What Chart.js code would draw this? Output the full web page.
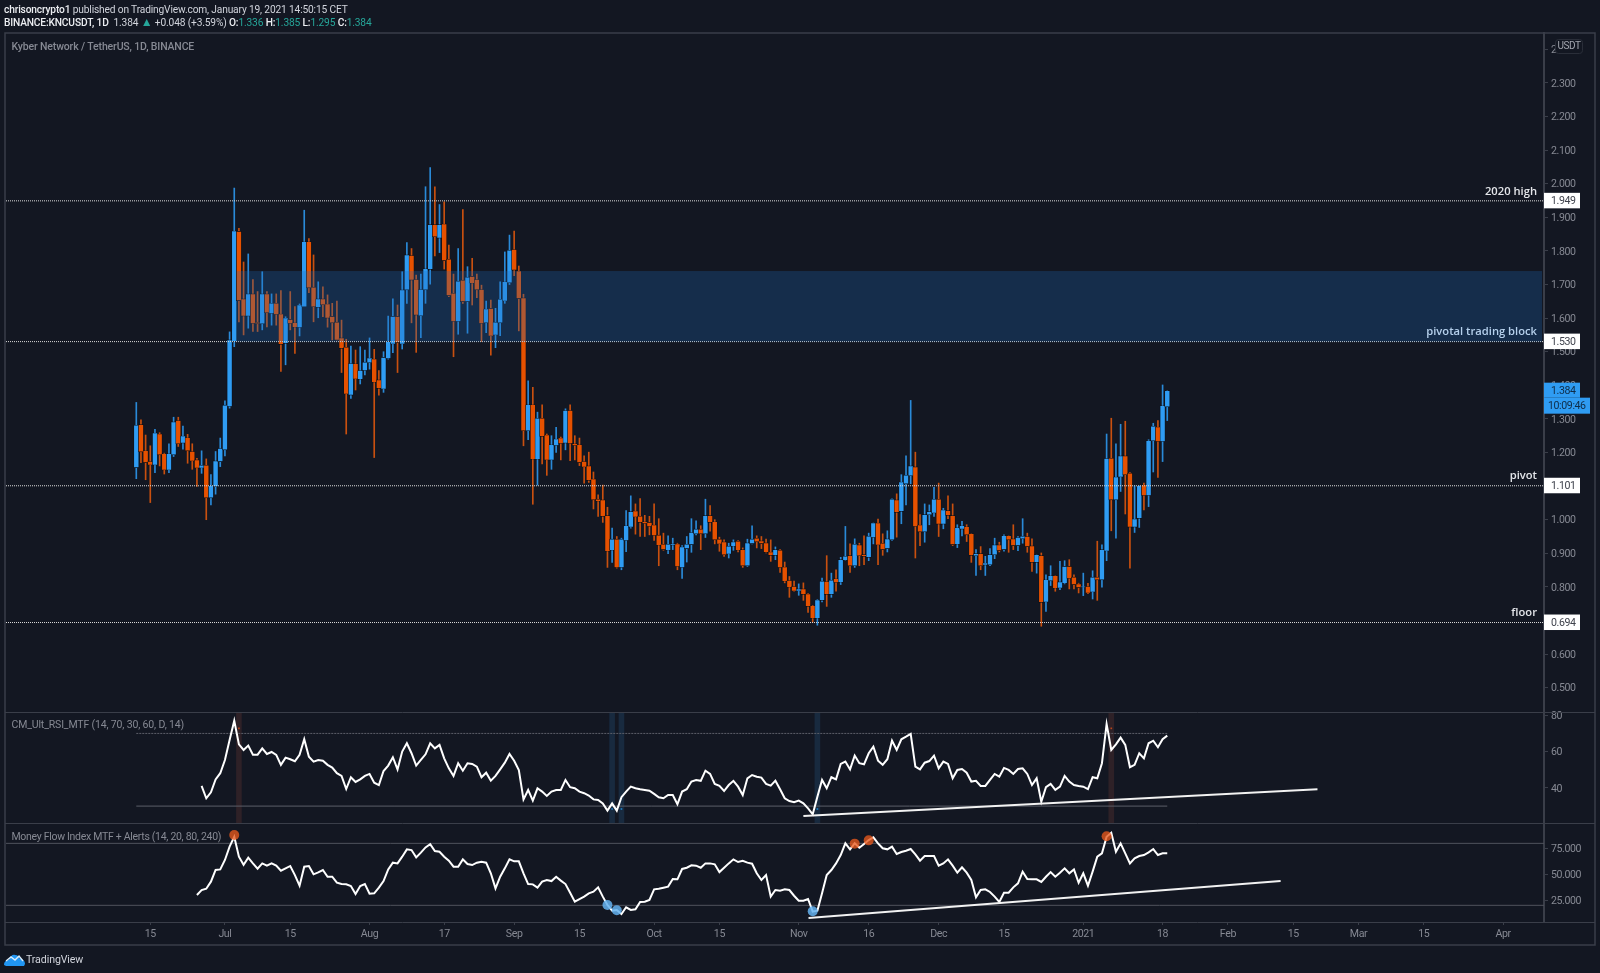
<!DOCTYPE html>
<html>
<head>
<meta charset="utf-8">
<title>KNCUSDT 1D</title>
<script src="https://cdn.jsdelivr.net/npm/chart.js@4"></script>
<style>
    html, body { margin: 0; padding: 0; background: #131722; }
    body { width: 1600px; height: 973px; position: relative; overflow: hidden; font-family: Roboto, sans-serif; }
    #chart { position: absolute; left: 0; top: 0; }
    .head { position: absolute; left: 4px; font-size: 10.2px; letter-spacing: -0.15px; line-height: 13px; color: #d1d4dc; white-space: nowrap; }
    .head b { color: #eceef2; font-weight: 500; }
    .head i { font-style: normal; color: #26a69a; }
    .head i.arrow { font-size: 12px; line-height: 12px; }
    #brand { position: absolute; left: 4px; top: 952px; height: 15px; }
    #brandText { position: absolute; left: 26px; top: 952px; font-size: 10.6px; letter-spacing: -0.1px; line-height: 15px; color: #d1d4dc; }
</style>
</head>
<body>
<canvas id="chart" width="1600" height="973"></canvas>
<div class="head" style="top:3px"><b>chrisoncrypto1</b> published on TradingView.com, January 19, 2021 14:50:15 CET</div>
<div class="head" style="top:16px"><b>BINANCE:KNCUSDT, 1D</b> &nbsp;1.384 <i class="arrow">▲</i> +0.048 (+3.59%) <b>O:</b><i>1.336</i> <b>H:</b><i>1.385</i> <b>L:</b><i>1.295</i> <b>C:</b><i>1.384</i></div>
<svg id="brand" width="21" height="15" viewBox="0 0 21 15">
    <path d="M0 13 C0 9 3 8 5 8 C6 4 9 2 11 3 C14 3 15 5 16 7 C19 7 21 9 21 12 L20 14 L2 14 Z" fill="#2196f3"/>
    <path d="M2 9 L7 5 L11 8 L15 4 L19 9" fill="none" stroke="#d9ecfb" stroke-width="1.4"/>
</svg>
<div id="brandText">TradingView</div>

<script>
// Daily candles, index 0 is 12 Jun 2020
const opens = [
    1.155, 1.283, 1.205, 1.173, 1.163, 1.255, 1.196, 1.148, 1.193, 1.295,
    1.228, 1.244, 1.203, 1.178, 1.154, 1.162, 1.065, 1.099, 1.173, 1.208,
    1.337, 1.530, 1.858, 1.657, 1.606, 1.672, 1.588, 1.583, 1.672, 1.614,
    1.644, 1.612, 1.525, 1.596, 1.586, 1.572, 1.634, 1.827, 1.692, 1.632,
    1.657, 1.642, 1.605, 1.588, 1.541, 1.513, 1.371, 1.464, 1.418, 1.444,
    1.467, 1.478, 1.416, 1.389, 1.480, 1.523, 1.605, 1.523, 1.684, 1.786,
    1.715, 1.607, 1.684, 1.745, 1.878, 1.838, 1.880, 1.775, 1.674, 1.590,
    1.713, 1.649, 1.724, 1.715, 1.685, 1.586, 1.629, 1.550, 1.586, 1.651,
    1.705, 1.804, 1.740, 1.660, 1.265, 1.342, 1.180, 1.302, 1.252, 1.178,
    1.221, 1.243, 1.228, 1.325, 1.226, 1.223, 1.173, 1.160, 1.121, 1.061,
    1.059, 1.012, 0.909, 0.942, 0.858, 0.938, 0.978, 1.026, 1.010, 0.994,
    0.992, 0.984, 0.954, 0.927, 0.909, 0.924, 0.928, 0.858, 0.914, 0.926,
    0.958, 0.972, 0.958, 1.012, 0.994, 0.942, 0.934, 0.898, 0.921, 0.936,
    0.911, 0.863, 0.929, 0.945, 0.937, 0.931, 0.904, 0.894, 0.909, 0.859,
    0.819, 0.801, 0.788, 0.794, 0.779, 0.744, 0.707, 0.760, 0.816, 0.778,
    0.824, 0.814, 0.879, 0.893, 0.863, 0.925, 0.896, 0.888, 0.947, 0.990,
    0.930, 0.914, 0.940, 1.059, 1.025, 1.107, 1.131, 1.157, 0.984, 0.964,
    1.015, 1.020, 1.061, 0.987, 1.027, 1.012, 0.927, 0.972, 0.979, 0.958,
    0.893, 0.899, 0.865, 0.866, 0.896, 0.925, 0.911, 0.952, 0.943, 0.923,
    0.943, 0.950, 0.922, 0.873, 0.893, 0.755, 0.818, 0.833, 0.797, 0.811,
    0.861, 0.829, 0.809, 0.799, 0.801, 0.785, 0.829, 0.821, 0.907, 1.183,
    1.059, 1.127, 1.190, 1.138, 0.978, 1.004, 1.103, 1.072, 1.235, 1.276,
    1.233, 1.336
];
const highs = [
    1.349, 1.297, 1.252, 1.220, 1.269, 1.259, 1.198, 1.226, 1.305, 1.305,
    1.279, 1.254, 1.226, 1.183, 1.205, 1.181, 1.134, 1.203, 1.243, 1.354,
    1.559, 1.987, 1.867, 1.767, 1.791, 1.715, 1.679, 1.738, 1.679, 1.672,
    1.672, 1.682, 1.604, 1.679, 1.634, 1.642, 1.921, 1.837, 1.788, 1.708,
    1.693, 1.669, 1.644, 1.651, 1.594, 1.537, 1.517, 1.505, 1.515, 1.505,
    1.541, 1.507, 1.444, 1.500, 1.606, 1.657, 1.639, 1.738, 1.825, 1.807,
    1.728, 1.731, 1.991, 2.048, 1.991, 1.938, 1.946, 1.817, 1.731, 1.807,
    1.923, 1.753, 1.778, 1.731, 1.698, 1.651, 1.654, 1.629, 1.708, 1.797,
    1.847, 1.859, 1.755, 1.671, 1.413, 1.394, 1.320, 1.342, 1.255, 1.250,
    1.275, 1.246, 1.330, 1.342, 1.250, 1.243, 1.190, 1.201, 1.142, 1.074,
    1.103, 1.037, 0.975, 0.950, 0.945, 1.027, 1.071, 1.047, 1.063, 1.013,
    1.010, 1.047, 1.003, 0.960, 0.952, 0.945, 0.930, 0.923, 0.950, 1.003,
    0.997, 0.982, 1.061, 1.042, 1.000, 0.948, 0.940, 0.930, 0.940, 0.938,
    0.916, 0.942, 0.982, 0.952, 0.950, 0.942, 0.940, 0.919, 0.911, 0.874,
    0.831, 0.817, 0.809, 0.812, 0.780, 0.745, 0.762, 0.826, 0.893, 0.841,
    0.851, 0.888, 0.980, 0.928, 0.943, 0.930, 0.952, 0.960, 0.990, 1.002,
    0.958, 0.967, 1.062, 1.077, 1.134, 1.190, 1.355, 1.201, 1.015, 1.047,
    1.044, 1.096, 1.109, 1.034, 1.071, 1.047, 0.985, 0.995, 0.985, 0.958,
    0.911, 0.920, 0.891, 0.914, 0.945, 0.933, 0.955, 0.952, 0.985, 0.950,
    1.003, 0.960, 0.943, 0.896, 0.901, 0.836, 0.863, 0.833, 0.876, 0.878,
    0.881, 0.836, 0.811, 0.841, 0.811, 0.848, 0.936, 0.925, 1.255, 1.302,
    1.226, 1.284, 1.293, 1.140, 1.101, 1.101, 1.109, 1.238, 1.287, 1.295,
    1.401, 1.385
];
const lows = [
    1.122, 1.170, 1.119, 1.051, 1.140, 1.160, 1.136, 1.140, 1.188, 1.218,
    1.210, 1.168, 1.150, 1.099, 1.138, 1.000, 1.044, 1.076, 1.158, 1.190,
    1.332, 1.515, 1.589, 1.550, 1.570, 1.560, 1.560, 1.565, 1.574, 1.579,
    1.579, 1.441, 1.461, 1.565, 1.495, 1.547, 1.634, 1.676, 1.589, 1.601,
    1.604, 1.573, 1.535, 1.535, 1.438, 1.255, 1.361, 1.386, 1.404, 1.431,
    1.448, 1.185, 1.371, 1.379, 1.478, 1.497, 1.438, 1.508, 1.644, 1.586,
    1.498, 1.542, 1.644, 1.701, 1.785, 1.795, 1.746, 1.664, 1.485, 1.552,
    1.644, 1.555, 1.639, 1.661, 1.530, 1.557, 1.490, 1.512, 1.548, 1.644,
    1.700, 1.726, 1.562, 1.220, 1.238, 1.046, 1.103, 1.166, 1.132, 1.150,
    1.200, 1.178, 1.208, 1.176, 1.178, 1.161, 1.109, 1.111, 1.032, 1.010,
    0.992, 0.858, 0.873, 0.856, 0.851, 0.905, 0.975, 0.957, 0.950, 0.950,
    0.955, 0.938, 0.863, 0.909, 0.899, 0.911, 0.851, 0.825, 0.874, 0.903,
    0.955, 0.911, 0.947, 0.966, 0.928, 0.906, 0.891, 0.886, 0.909, 0.904,
    0.858, 0.861, 0.928, 0.916, 0.914, 0.901, 0.876, 0.881, 0.843, 0.812,
    0.769, 0.787, 0.775, 0.760, 0.724, 0.695, 0.686, 0.755, 0.742, 0.769,
    0.787, 0.807, 0.878, 0.843, 0.858, 0.863, 0.866, 0.878, 0.928, 0.866,
    0.894, 0.904, 0.938, 0.948, 0.988, 1.044, 1.107, 0.886, 0.923, 0.933,
    0.985, 1.010, 0.950, 0.973, 1.003, 0.923, 0.917, 0.952, 0.935, 0.873,
    0.834, 0.851, 0.834, 0.863, 0.884, 0.904, 0.906, 0.903, 0.911, 0.908,
    0.930, 0.903, 0.846, 0.841, 0.683, 0.727, 0.804, 0.787, 0.792, 0.809,
    0.794, 0.794, 0.782, 0.774, 0.780, 0.764, 0.760, 0.799, 0.878, 0.967,
    0.945, 1.084, 1.017, 0.856, 0.962, 0.977, 1.029, 1.039, 1.142, 1.126,
    1.173, 1.295
];
const closes = [
    1.281, 1.202, 1.170, 1.163, 1.258, 1.193, 1.148, 1.196, 1.291, 1.226,
    1.249, 1.205, 1.175, 1.154, 1.162, 1.065, 1.101, 1.175, 1.212, 1.341,
    1.535, 1.859, 1.652, 1.606, 1.672, 1.584, 1.583, 1.672, 1.616, 1.644,
    1.611, 1.522, 1.600, 1.584, 1.573, 1.639, 1.827, 1.690, 1.634, 1.657,
    1.640, 1.600, 1.586, 1.535, 1.510, 1.374, 1.465, 1.419, 1.444, 1.469,
    1.481, 1.409, 1.391, 1.483, 1.530, 1.605, 1.527, 1.684, 1.788, 1.713,
    1.609, 1.685, 1.747, 1.878, 1.842, 1.878, 1.771, 1.667, 1.590, 1.710,
    1.649, 1.722, 1.704, 1.684, 1.584, 1.627, 1.547, 1.588, 1.656, 1.708,
    1.802, 1.743, 1.658, 1.265, 1.342, 1.180, 1.302, 1.248, 1.178, 1.223,
    1.240, 1.227, 1.325, 1.227, 1.221, 1.170, 1.157, 1.117, 1.059, 1.055,
    1.010, 0.906, 0.942, 0.858, 0.942, 0.982, 1.024, 1.008, 0.992, 0.989,
    0.980, 0.953, 0.924, 0.911, 0.927, 0.928, 0.861, 0.919, 0.927, 0.962,
    0.972, 0.958, 1.012, 0.992, 0.940, 0.928, 0.896, 0.921, 0.934, 0.909,
    0.863, 0.931, 0.942, 0.934, 0.929, 0.903, 0.894, 0.911, 0.858, 0.817,
    0.799, 0.788, 0.794, 0.778, 0.742, 0.707, 0.761, 0.817, 0.778, 0.820,
    0.813, 0.881, 0.891, 0.863, 0.927, 0.893, 0.891, 0.951, 0.990, 0.925,
    0.911, 0.943, 1.061, 1.022, 1.112, 1.132, 1.160, 0.980, 0.964, 1.015,
    1.024, 1.061, 0.987, 1.029, 1.013, 0.926, 0.976, 0.982, 0.955, 0.894,
    0.899, 0.863, 0.871, 0.896, 0.925, 0.908, 0.952, 0.940, 0.923, 0.947,
    0.951, 0.920, 0.873, 0.896, 0.754, 0.821, 0.833, 0.796, 0.815, 0.861,
    0.825, 0.807, 0.798, 0.801, 0.782, 0.829, 0.821, 0.911, 1.182, 1.059,
    1.127, 1.190, 1.134, 0.978, 1.002, 1.101, 1.072, 1.235, 1.278, 1.233,
    1.339, 1.384
];

// RSI starts at day 14, money flow at day 13
const rsiStart = 14;
const rsiValues = [
    41.1, 34.3, 37.6, 44.7, 48.1, 55.4, 66.4, 77.0, 64.0, 60.9,
    63.3, 58.3, 58.3, 61.8, 58.7, 59.8, 58.2, 52.7, 56.7, 55.8,
    54.7, 58.2, 66.8, 57.2, 54.5, 55.4, 55.0, 52.7, 51.2, 48.1,
    46.6, 39.4, 45.9, 43.3, 44.7, 46.6, 47.7, 42.9, 41.6, 49.3,
    52.3, 56.9, 50.2, 60.0, 64.6, 59.1, 52.3, 55.4, 58.5, 64.6,
    61.8, 63.7, 56.3, 50.8, 46.6, 53.6, 49.5, 53.6, 53.2, 51.7,
    45.9, 48.4, 44.0, 46.6, 50.2, 53.9, 58.7, 55.0, 49.9, 33.7,
    38.9, 33.0, 39.8, 38.0, 35.6, 38.0, 38.9, 38.9, 44.4, 40.4,
    39.8, 38.0, 37.1, 35.8, 33.7, 33.4, 31.5, 27.5, 31.5, 27.5,
    34.9, 38.0, 40.7, 39.8, 39.3, 38.9, 38.5, 36.7, 34.9, 34.3,
    36.1, 36.1, 31.0, 38.0, 39.3, 43.5, 44.4, 43.9, 49.5, 47.7,
    42.2, 41.1, 38.3, 41.6, 43.9, 40.7, 36.1, 45.3, 47.1, 46.2,
    45.7, 42.2, 41.3, 44.0, 39.3, 34.3, 32.8, 32.1, 33.0, 31.5,
    28.8, 25.5, 35.2, 44.4, 39.8, 45.9, 44.7, 53.2, 54.5, 50.2,
    57.8, 53.6, 53.0, 59.1, 62.7, 55.0, 52.7, 55.8, 66.0, 60.9,
    66.8, 68.2, 69.7, 51.7, 50.2, 53.9, 54.8, 57.8, 50.8, 54.5,
    53.2, 45.3, 49.9, 50.4, 48.4, 43.5, 43.9, 41.1, 41.1, 44.4,
    47.7, 46.2, 51.0, 49.9, 47.7, 50.4, 50.8, 47.7, 41.6, 45.3,
    32.4, 40.4, 42.2, 38.9, 40.7, 46.6, 43.5, 41.6, 41.1, 40.7,
    39.4, 45.9, 45.3, 53.6, 75.2, 60.9, 64.0, 67.7, 63.7, 51.4,
    52.7, 59.1, 56.3, 64.6, 66.0, 62.4, 66.8, 68.8
];
const mfiStart = 13;
const mfiValues = [
    30.0, 34.8, 36.1, 42.9, 54.2, 54.8, 63.9, 76.8, 86.4, 67.1,
    59.3, 66.1, 60.6, 55.5, 60.6, 58.4, 60.6, 58.4, 53.5, 55.8,
    58.1, 49.3, 39.0, 57.4, 58.1, 50.0, 51.9, 54.2, 47.7, 47.7,
    41.9, 40.6, 40.3, 38.7, 31.0, 38.7, 40.6, 31.3, 31.6, 37.1,
    43.5, 54.8, 61.3, 60.6, 67.1, 74.2, 73.5, 66.4, 71.0, 76.1,
    79.3, 72.6, 71.9, 67.1, 63.2, 57.4, 57.4, 64.5, 60.0, 59.0,
    61.3, 62.2, 61.3, 51.0, 36.4, 47.7, 55.8, 64.5, 62.6, 62.6,
    51.0, 40.6, 40.3, 37.1, 42.9, 44.5, 43.5, 47.7, 43.9, 40.6,
    32.2, 23.5, 26.1, 28.4, 31.6, 33.2, 37.4, 28.4, 20.3, 14.8,
    15.5, 11.6, 18.1, 15.5, 16.1, 23.2, 23.5, 25.2, 35.5, 36.1,
    37.1, 38.1, 45.5, 45.2, 55.2, 56.4, 58.7, 58.4, 56.4, 60.6,
    60.6, 59.7, 52.2, 56.4, 60.6, 64.5, 61.9, 63.2, 61.3, 60.3,
    51.0, 44.5, 49.3, 28.4, 34.8, 34.2, 35.5, 34.8, 29.3, 24.5,
    24.5, 26.1, 13.9, 14.8, 31.6, 49.3, 54.2, 60.6, 68.7, 80.0,
    74.2, 80.0, 75.8, 79.3, 83.2, 85.8, 80.0, 75.2, 74.2, 76.8,
    69.7, 71.6, 72.9, 74.5, 69.3, 63.2, 67.7, 67.7, 67.7, 58.4,
    60.6, 64.5, 58.4, 51.6, 56.8, 51.6, 44.5, 27.7, 34.8, 35.5,
    32.9, 28.4, 23.2, 32.2, 32.2, 37.4, 41.3, 52.6, 45.5, 45.2,
    45.2, 42.6, 47.7, 52.2, 47.7, 51.6, 55.8, 51.0, 54.8, 41.9,
    51.0, 39.0, 52.6, 67.1, 70.3, 86.4, 90.3, 71.9, 80.0, 70.3,
    60.6, 65.5, 67.7, 68.7, 71.3, 74.5, 68.7, 70.3, 70.3
];

// Time axis
const tickDays = [3, 19, 33, 50, 66, 81, 95, 111, 125, 142, 157, 172, 186, 203, 220, 234, 248, 262, 276, 293];
const tickLabels = ['15', 'Jul', '15', 'Aug', '17', 'Sep', '15', 'Oct', '15', 'Nov', '16', 'Dec', '15', '2021', '18', 'Feb', '15', 'Mar', '15', 'Apr'];

// Axis ticks of the three panes
const priceTicks = [0.5, 0.6, 0.7, 0.8, 0.9, 1.0, 1.1, 1.2, 1.3, 1.4, 1.5, 1.6, 1.7, 1.8, 1.9, 2.0, 2.1, 2.2, 2.3, 2.4];
const rsiTicks = [40, 60, 80];
const mfiTicks = [25, 50, 75];

// Hand drawn levels and annotations
const levelValues = [1.949, 1.530, 1.101, 0.694];
const levelNotes = ['2020 high', 'pivotal trading block', 'pivot', 'floor'];
const zoneTop = 1.74;
const zoneBottom = 1.53;
const zoneStartDay = 21.6;
const lastPrice = 1.384;
const countdown = '10:09:46';

const rsiBands = [70, 30];
const mfiBands = [80, 20];
const rsiHotDays = [22, 209];
const rsiColdDays = [102, 104, 146];
const rsiHotMark = 72.8;
const rsiColdMark = 28.4;
const rsiTrendDays = [143, 253.2];
const rsiTrendValues = [24.6, 39.3];
const mfiTrendDays = [144.1, 245.3];
const mfiTrendValues = [7.7, 43.5];
const mfiHotDays = [21, 154, 157, 208];
const mfiHotValues = [88, 79.7, 82.9, 86.8];
const mfiColdDays = [101, 103, 145];
const mfiColdValues = [20.3, 15.2, 14.2];

const dayMin = -27.93;
const dayMax = 301.76;
const priceMin = 0.4277;
const priceMax = 2.4485;
const rsiMin = 20.7;
const rsiMax = 81.8;
const mfiMin = 3.86;
const mfiMax = 99.7;

const UP = '#2f9cf3';
const DOWN = '#e65100';
const BG = '#131722';
const LINE = '#3a3e49';
const TEXT_DIM = '#868993';
const AXIS_SPACING = '-0.4px';

const dayIndexes = opens.map((_, i) => i);
const candleColor = dayIndexes.map(i => closes[i] >= opens[i] ? UP : DOWN);
const wickColor = dayIndexes.map(i => closes[i] >= opens[i] ? '#2a8ad8' : '#c9500f');

function horizontal(value, from, to) {
    return [{ x: from, y: value }, { x: to, y: value }];
}

const datasets = [];

// Main pane: wicks sit under the bodies
datasets.push({
    type: 'bar', yAxisID: 'y', order: 11, grouped: false, barThickness: 1,
    data: dayIndexes.map(i => ({ x: i, y: [lows[i], highs[i]] })),
    backgroundColor: wickColor
});
datasets.push({
    type: 'bar', yAxisID: 'y', order: 10, grouped: false, barThickness: 5,
    data: dayIndexes.map(i => ({ x: i, y: [opens[i], closes[i]] })),
    backgroundColor: candleColor, borderColor: '#0b0e14', borderWidth: 0.6, borderSkipped: false
});
levelValues.forEach(v => datasets.push({
    type: 'line', yAxisID: 'y', order: 5, data: horizontal(v, dayMin, dayMax),
    borderColor: '#dcdcdc', borderWidth: 1, borderDash: [1, 1], pointRadius: 0
}));

// RSI pane
datasets.push({
    type: 'bar', yAxisID: 'rsi', order: 12, grouped: false, barThickness: 5,
    data: rsiHotDays.map(d => ({ x: d, y: [rsiMin, rsiMax] })), backgroundColor: '#2e2127'
});
datasets.push({
    type: 'bar', yAxisID: 'rsi', order: 12, grouped: false, barThickness: 5,
    data: rsiColdDays.map(d => ({ x: d, y: [rsiMin, rsiMax] })), backgroundColor: '#182a3f'
});
rsiBands.forEach((v, k) => datasets.push({
    type: 'line', yAxisID: 'rsi', order: 6, data: horizontal(v, 0, 221),
    borderColor: '#5c5f69', borderWidth: 1, borderDash: k === 0 ? [2, 1] : [], pointRadius: 0
}));
datasets.push({
    type: 'scatter', yAxisID: 'rsi', order: 5,
    data: rsiHotDays.map(d => ({ x: d, y: rsiHotMark })),
    backgroundColor: '#b5441c', borderWidth: 0, pointStyle: 'rect', pointRadius: 1.2
});
datasets.push({
    type: 'scatter', yAxisID: 'rsi', order: 5,
    data: rsiColdDays.map(d => ({ x: d, y: rsiColdMark })),
    backgroundColor: '#1f7fc4', borderWidth: 0, pointStyle: 'rect', pointRadius: 1.2
});
datasets.push({
    type: 'line', yAxisID: 'rsi', order: 4,
    data: rsiValues.map((v, k) => ({ x: rsiStart + k, y: v })),
    borderColor: '#ffffff', borderWidth: 2, pointRadius: 0, tension: 0
});
datasets.push({
    type: 'line', yAxisID: 'rsi', order: 3,
    data: rsiTrendDays.map((d, k) => ({ x: d, y: rsiTrendValues[k] })),
    borderColor: '#f2f2f2', borderWidth: 2, pointRadius: 0
});

// Money flow pane
mfiBands.forEach(v => datasets.push({
    type: 'line', yAxisID: 'mfi', order: 6, data: horizontal(v, dayMin, dayMax),
    borderColor: '#50535d', borderWidth: 1, pointRadius: 0
}));
datasets.push({
    type: 'line', yAxisID: 'mfi', order: 4,
    data: mfiValues.map((v, k) => ({ x: mfiStart + k, y: v })),
    borderColor: '#ffffff', borderWidth: 2, pointRadius: 0, tension: 0
});
datasets.push({
    type: 'line', yAxisID: 'mfi', order: 3,
    data: mfiTrendDays.map((d, k) => ({ x: d, y: mfiTrendValues[k] })),
    borderColor: '#f2f2f2', borderWidth: 2, pointRadius: 0
});
datasets.push({
    type: 'scatter', yAxisID: 'mfi', order: 2,
    data: mfiHotDays.map((d, k) => ({ x: d, y: mfiHotValues[k] })),
    backgroundColor: 'rgba(232, 88, 28, 0.78)', borderWidth: 0, pointRadius: 5
});
datasets.push({
    type: 'scatter', yAxisID: 'mfi', order: 2,
    data: mfiColdDays.map((d, k) => ({ x: d, y: mfiColdValues[k] })),
    backgroundColor: 'rgba(100, 178, 238, 0.85)', borderWidth: 0, pointRadius: 5
});

function yAxis(weight, stackWeight, min, max, ticks, format) {
    return {
        type: 'linear', position: 'right', stack: 'panes', stackWeight: stackWeight, weight: weight,
        min: min, max: max,
        afterBuildTicks: scale => { scale.ticks = ticks.map(v => ({ value: v })); },
        afterFit: scale => { scale.width = 51; },
        ticks: { color: TEXT_DIM, font: { family: 'Roboto', size: 10.6 }, padding: 3, labelOffset: 1, callback: format },
        grid: { drawOnChartArea: false, tickLength: 4, color: LINE },
        border: { color: LINE, width: 2 }
    };
}

function roundRect(ctx, x, y, w, h, r) {
    ctx.beginPath();
    ctx.roundRect(x, y, w, h, r);
}

// Zone, frame, pane borders, price tags and pane titles
const annotations = {
    id: 'annotations',
    beforeDraw(chart) {
        chart.ctx.letterSpacing = AXIS_SPACING;
    },
    afterDatasetsDraw(chart) {
        const ctx = chart.ctx;
        const area = chart.chartArea;
        const y = chart.scales.y;
        const x = chart.scales.x;
        ctx.save();
        ctx.fillStyle = 'rgba(30, 106, 190, 0.27)';
        ctx.fillRect(x.getPixelForValue(zoneStartDay), y.getPixelForValue(zoneTop),
            area.right - 2 - x.getPixelForValue(zoneStartDay), y.getPixelForValue(zoneBottom) - y.getPixelForValue(zoneTop));
        ctx.restore();
    },
    afterDraw(chart) {
        const ctx = chart.ctx;
        const area = chart.chartArea;
        const y = chart.scales.y;
        const scaleRight = 1595;
        ctx.save();

        // frame and pane separators
        ctx.strokeStyle = LINE;
        ctx.lineWidth = 1.5;
        ctx.strokeRect(5, 33, scaleRight - 5, 912);
        ctx.lineWidth = 1;
        [chart.scales.y.bottom, chart.scales.rsi.bottom, area.bottom].forEach(py => {
            ctx.beginPath();
            ctx.moveTo(5, Math.round(py) + 0.5);
            ctx.lineTo(scaleRight, Math.round(py) + 0.5);
            ctx.stroke();
        });

        // pane titles
        ctx.textBaseline = 'middle';
        ctx.textAlign = 'left';
        ctx.fillStyle = TEXT_DIM;
        ctx.letterSpacing = '-0.15px';
        ctx.font = '500 10.5px Roboto';
        ctx.fillText('Kyber Network / TetherUS, 1D, BINANCE', 11.5, 47);
        ctx.font = '10.5px Roboto';
        ctx.fillText('CM_Ult_RSI_MTF (14, 70, 30, 60, D, 14)', 11.5, 725);
        ctx.letterSpacing = '-0.3px';
        ctx.fillText('Money Flow Index MTF + Alerts (14, 20, 80, 240)', 11.5, 837);

        // level notes above the dotted lines
        ctx.letterSpacing = '0px';
        ctx.textAlign = 'right';
        ctx.font = '600 11.2px "Open Sans"';
        levelValues.forEach((v, k) => {
            const py = y.getPixelForValue(v);
            ctx.fillStyle = k === 1 ? '#b5d0ec' : '#e4e6ea';
            ctx.fillText(levelNotes[k], 1537, py - 9.5);
        });

        // level tags on the price scale
        ctx.letterSpacing = AXIS_SPACING;
        ctx.textAlign = 'left';
        ctx.font = '10.6px Roboto';
        levelValues.forEach(v => {
            const py = y.getPixelForValue(v);
            ctx.fillStyle = '#ffffff';
            ctx.fillRect(1544, py - 8, 36, 15.5);
            ctx.fillStyle = '#3f424c';
            ctx.fillText(v.toFixed(3), 1551, py + 0.5);
        });

        // last price and bar countdown
        const lastY = y.getPixelForValue(lastPrice);
        ctx.fillStyle = UP;
        ctx.fillRect(1544, lastY - 8, 36, 15);
        ctx.fillRect(1544, lastY + 7, 46, 16);
        ctx.fillStyle = '#0f2c47';
        ctx.fillText(lastPrice.toFixed(3), 1551, lastY + 0.5);
        ctx.fillText(countdown, 1548, lastY + 15.5);

        // currency badge
        ctx.fillStyle = BG;
        ctx.strokeStyle = '#2a2e39';
        roundRect(ctx, 1555.5, 39.5, 27, 14, 3);
        ctx.fill();
        ctx.stroke();
        ctx.fillStyle = '#a3a6af';
        ctx.font = '10px Roboto';
        ctx.textAlign = 'center';
        ctx.fillText('USDT', 1569, 46.5);
        ctx.restore();
    }
};

new Chart(document.getElementById('chart').getContext('2d'), {
    data: { datasets: datasets },
    plugins: [annotations],
    options: {
        responsive: false,
        animation: false,
        events: [],
        layout: { autoPadding: false, padding: { left: 6, top: 33, right: 5, bottom: 28 } },
        plugins: { legend: { display: false }, tooltip: { enabled: false } },
        scales: {
            x: {
                type: 'linear', position: 'bottom', min: dayMin, max: dayMax, offset: false,
                afterBuildTicks: scale => { scale.ticks = tickDays.map(v => ({ value: v })); },
                afterFit: scale => { scale.height = 23; },
                ticks: {
                    color: TEXT_DIM, autoSkip: false, maxRotation: 0, padding: 3,
                    font: { family: 'Roboto', size: 10.6 },
                    callback: value => tickLabels[tickDays.indexOf(value)]
                },
                grid: { offset: false, drawOnChartArea: false, tickLength: 3, color: LINE },
                border: { display: false }
            },
            y: yAxis(1, 679, priceMin, priceMax, priceTicks, v => v.toFixed(3)),
            rsi: yAxis(2, 111, rsiMin, rsiMax, rsiTicks, v => String(v)),
            mfi: yAxis(3, 99, mfiMin, mfiMax, mfiTicks, v => v.toFixed(3))
        }
    }
});
</script>
</body>
</html>
